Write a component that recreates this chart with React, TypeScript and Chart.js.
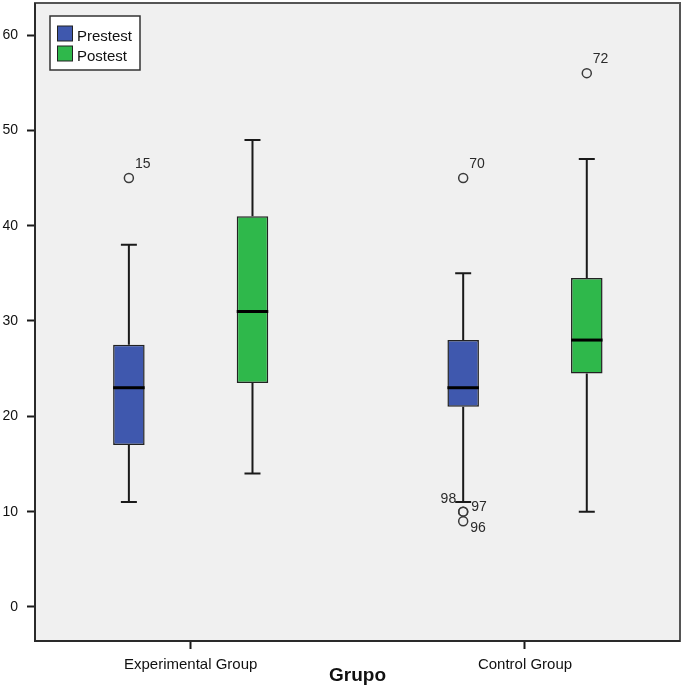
import React, { useEffect, useRef } from 'react';
import { Chart, registerables } from 'chart.js';

Chart.register(...registerables);

// ---------- data ----------
const categories = ['Experimental Group', 'Control Group'];
const seriesNames = ['Prestest', 'Postest'];
const seriesColors = ['#3f58ae', '#2fb84b'];

const preMin = [11, 11];
const preQ1 = [17, 21];
const preMedian = [23, 23];
const preQ3 = [27.5, 28];
const preMax = [38, 35];
const preOutliers = [
  [{ value: 45, id: '15' }],
  [
    { value: 45, id: '70' },
    { value: 10, id: '98' },
    { value: 10, id: '97' },
    { value: 9, id: '96' },
  ],
];

const postMin = [14, 10];
const postQ1 = [23.5, 24.5];
const postMedian = [31, 28];
const postQ3 = [41, 34.5];
const postMax = [49, 47];
const postOutliers = [[], [{ value: 56, id: '72' }]];

const yTicks = [0, 10, 20, 30, 40, 50, 60];
const xAxisTitle = 'Grupo';

// ---------- styling ----------
const FONT = "'Liberation Sans', Arial, Helvetica, sans-serif";
const TEXT = '#111111';
const LINE = '#1a1a1a';
// where each outlier's case label sits relative to its circle
const labelPlacement: Record<string, string> = {
  '15': 'ur',
  '70': 'ur',
  '72': 'ur',
  '98': 'l',
  '97': 'r',
  '96': 'dr',
};

const stats = [
  { min: preMin, q1: preQ1, med: preMedian, q3: preQ3, max: preMax, out: preOutliers },
  { min: postMin, q1: postQ1, med: postMedian, q3: postQ3, max: postMax, out: postOutliers },
];

const boxPlugin = {
  id: 'boxExtras',
  beforeDraw(chart: any) {
    const { ctx, chartArea: a } = chart;
    ctx.save();
    ctx.fillStyle = '#f0f0f0';
    ctx.fillRect(a.left, a.top, a.right - a.left, a.bottom - a.top);
    ctx.restore();
  },
  beforeDatasetsDraw(chart: any) {
    const { ctx } = chart;
    const ys = chart.scales.y;
    ctx.save();
    ctx.strokeStyle = LINE;
    ctx.lineWidth = 2;
    stats.forEach((s, d) => {
      const meta = chart.getDatasetMeta(d);
      meta.data.forEach((bar: any, i: number) => {
        const x = bar.x;
        const yMin = ys.getPixelForValue(s.min[i]);
        const yMax = ys.getPixelForValue(s.max[i]);
        const yQ1 = ys.getPixelForValue(s.q1[i]);
        const yQ3 = ys.getPixelForValue(s.q3[i]);
        ctx.beginPath();
        ctx.moveTo(x, yQ3);
        ctx.lineTo(x, yMax);
        ctx.moveTo(x, yQ1);
        ctx.lineTo(x, yMin);
        ctx.moveTo(x - 8, yMax);
        ctx.lineTo(x + 8, yMax);
        ctx.moveTo(x - 8, yMin);
        ctx.lineTo(x + 8, yMin);
        ctx.stroke();
      });
    });
    ctx.restore();
  },
  afterDatasetsDraw(chart: any) {
    const { ctx } = chart;
    const ys = chart.scales.y;
    ctx.save();
    stats.forEach((s, d) => {
      const meta = chart.getDatasetMeta(d);
      meta.data.forEach((bar: any, i: number) => {
        const x = bar.x;
        const w = bar.width;
        const yMed = ys.getPixelForValue(s.med[i]);
        ctx.strokeStyle = '#000';
        ctx.lineWidth = 3;
        ctx.beginPath();
        ctx.moveTo(x - w / 2, yMed);
        ctx.lineTo(x + w / 2, yMed);
        ctx.stroke();

        s.out[i].forEach((o) => {
          const y = ys.getPixelForValue(o.value);
          ctx.strokeStyle = '#3a3a3a';
          ctx.lineWidth = 1.5;
          ctx.beginPath();
          ctx.arc(x, y, 4.5, 0, Math.PI * 2);
          ctx.stroke();
          ctx.fillStyle = '#2a2a2a';
          ctx.font = `14px ${FONT}`;
          ctx.textBaseline = 'alphabetic';
          const p = labelPlacement[o.id] || 'ur';
          if (p === 'ur') {
            ctx.textAlign = 'left';
            ctx.fillText(o.id, x + 6, y - 10);
          } else if (p === 'l') {
            ctx.textAlign = 'right';
            ctx.fillText(o.id, x - 7, y - 9);
          } else if (p === 'r') {
            ctx.textAlign = 'left';
            ctx.fillText(o.id, x + 8, y - 1);
          } else {
            ctx.textAlign = 'left';
            ctx.fillText(o.id, x + 7, y + 11);
          }
        });
      });
    });
    ctx.restore();
  },
  afterDraw(chart: any) {
    const { ctx, chartArea: a } = chart;
    ctx.save();
    // frame
    ctx.strokeStyle = '#555555';
    ctx.lineWidth = 2;
    ctx.strokeRect(a.left, a.top, a.right - a.left, a.bottom - a.top);
    ctx.strokeStyle = '#2a2a2a';
    ctx.beginPath();
    ctx.moveTo(a.left, a.top);
    ctx.lineTo(a.left, a.bottom);
    ctx.lineTo(a.right, a.bottom);
    ctx.stroke();

    // legend
    const lx = a.left + 15;
    const ly = a.top + 13;
    ctx.fillStyle = '#ffffff';
    ctx.fillRect(lx, ly, 90, 54);
    ctx.strokeStyle = '#333333';
    ctx.lineWidth = 1.5;
    ctx.strokeRect(lx, ly, 90, 54);
    chart.data.datasets.forEach((ds: any, k: number) => {
      const sy = ly + 10 + k * 20;
      ctx.fillStyle = ds.backgroundColor;
      ctx.fillRect(lx + 7.5, sy, 15, 15);
      ctx.strokeStyle = '#222';
      ctx.lineWidth = 1;
      ctx.strokeRect(lx + 7.5, sy, 15, 15);
      ctx.fillStyle = TEXT;
      ctx.font = `15px ${FONT}`;
      ctx.textAlign = 'left';
      ctx.textBaseline = 'alphabetic';
      ctx.fillText(ds.label, lx + 27, sy + 15);
    });
    ctx.restore();
  },
};

export default function App() {
  const ref = useRef<HTMLCanvasElement | null>(null);

  useEffect(() => {
    document.body.style.margin = '0';
    const canvas = ref.current;
    if (!canvas) return;
    const datasets = seriesNames.map((name, d) => ({
      label: name,
      data: categories.map((_, i) => ({ x: i, y: [stats[d].q1[i], stats[d].q3[i]] })),
      backgroundColor: seriesColors[d],
      borderColor: '#222222',
      borderWidth: 1.5,
      borderSkipped: false,
      categoryPercentage: 0.7395,
      barPercentage: 0.255,
    }));

    const chart = new Chart(canvas, {
      type: 'bar',
      data: { datasets } as any,
      options: {
        animation: false,
        responsive: false,
        maintainAspectRatio: false,
        indexAxis: 'x',
        events: [],
        layout: { padding: { top: 3, right: 5, left: 0, bottom: 0 } },
        plugins: {
          legend: { display: false },
          tooltip: { enabled: false },
        },
        scales: {
          x: {
            type: 'linear',
            offset: false,
            min: -0.4657,
            max: 1.4637,
            afterBuildTicks: (s: any) => {
              s.ticks = categories.map((_, i) => ({ value: i }));
            },
            afterFit: (s: any) => {
              s.height = 50;
              s.paddingLeft = 0;
              s.paddingRight = 0;
            },
            ticks: {
              callback: (v: any) => categories[v as number] ?? '',
              font: { family: FONT, size: 15 },
              color: TEXT,
              padding: 7,
              maxRotation: 0,
              autoSkip: false,
            },
            grid: {
              offset: false,
              drawOnChartArea: false,
              drawTicks: true,
              tickLength: 8,
              tickColor: LINE,
              tickWidth: 2,
            },
            border: { display: false },
            title: {
              display: true,
              text: xAxisTitle,
              font: { family: FONT, size: 19, weight: 'bold' },
              color: TEXT,
              padding: { top: 0, bottom: 4 },
            },
          },
          y: {
            type: 'linear',
            min: -3.57,
            max: 63.36,
            afterBuildTicks: (s: any) => {
              s.ticks = yTicks.map((v) => ({ value: v }));
            },
            afterFit: (s: any) => {
              s.width = 35;
              s.paddingTop = 0;
              s.paddingBottom = 0;
            },
            ticks: {
              font: { family: FONT, size: 14 },
              color: TEXT,
              padding: 9,
            },
            grid: {
              drawOnChartArea: false,
              drawTicks: true,
              tickLength: 8,
              tickColor: LINE,
              tickWidth: 2,
            },
            border: { display: false },
          },
        },
      } as any,
      plugins: [boxPlugin],
    });
    return () => chart.destroy();
  }, []);

  return (
    <div style={{ width: 685, height: 691 }}>
      <canvas ref={ref} width={685} height={691} style={{ display: 'block' }} />
    </div>
  );
}
